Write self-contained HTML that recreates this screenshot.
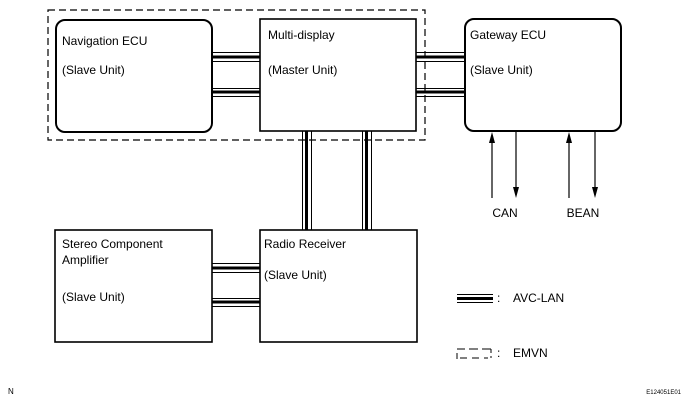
<!DOCTYPE html>
<html><head><style>
html,body{margin:0;padding:0;background:#fff;}
svg{display:block;}
text{font-family:"Liberation Sans",Arial,sans-serif;font-size:12px;fill:#000;}
</style></head><body>
<svg width="687" height="405" viewBox="0 0 687 405" xmlns="http://www.w3.org/2000/svg">
<!-- EMVN dashed box -->
<rect x="48" y="10" width="377" height="130" fill="none" stroke="#000" stroke-width="1.2" stroke-dasharray="7,4"/>
<g stroke="#000">
<line x1="212" y1="52.5" x2="260" y2="52.5" stroke-width="1"/>
<line x1="212" y1="57" x2="260" y2="57" stroke-width="3"/>
<line x1="212" y1="61.5" x2="260" y2="61.5" stroke-width="1"/>
<line x1="212" y1="88.5" x2="260" y2="88.5" stroke-width="1"/>
<line x1="212" y1="92" x2="260" y2="92" stroke-width="3"/>
<line x1="212" y1="96.5" x2="260" y2="96.5" stroke-width="1"/>
<line x1="416" y1="52.5" x2="465" y2="52.5" stroke-width="1"/>
<line x1="416" y1="57" x2="465" y2="57" stroke-width="3"/>
<line x1="416" y1="61.5" x2="465" y2="61.5" stroke-width="1"/>
<line x1="416" y1="88.5" x2="465" y2="88.5" stroke-width="1"/>
<line x1="416" y1="92" x2="465" y2="92" stroke-width="3"/>
<line x1="416" y1="96.5" x2="465" y2="96.5" stroke-width="1"/>
<line x1="212" y1="263.5" x2="260" y2="263.5" stroke-width="1"/>
<line x1="212" y1="268" x2="260" y2="268" stroke-width="3"/>
<line x1="212" y1="272.5" x2="260" y2="272.5" stroke-width="1"/>
<line x1="212" y1="298.5" x2="260" y2="298.5" stroke-width="1"/>
<line x1="212" y1="302" x2="260" y2="302" stroke-width="3"/>
<line x1="212" y1="306.5" x2="260" y2="306.5" stroke-width="1"/>
<line x1="302.5" y1="131" x2="302.5" y2="230" stroke-width="1"/>
<line x1="306.5" y1="131" x2="306.5" y2="230" stroke-width="3"/>
<line x1="311.5" y1="131" x2="311.5" y2="230" stroke-width="1"/>
<line x1="362.5" y1="131" x2="362.5" y2="230" stroke-width="1"/>
<line x1="366.5" y1="131" x2="366.5" y2="230" stroke-width="3"/>
<line x1="371.5" y1="131" x2="371.5" y2="230" stroke-width="1"/>
<line x1="457" y1="294.5" x2="493" y2="294.5" stroke-width="1"/>
<line x1="457" y1="298.5" x2="493" y2="298.5" stroke-width="3"/>
<line x1="457" y1="302.5" x2="493" y2="302.5" stroke-width="1"/>
</g>
<rect x="56" y="20" width="156" height="112" rx="9" fill="#fff" stroke="#000" stroke-width="2"/>
<rect x="260" y="19" width="156" height="112" fill="#fff" stroke="#000" stroke-width="1.6"/>
<rect x="465" y="19" width="156" height="112" rx="9" fill="#fff" stroke="#000" stroke-width="2"/>
<rect x="55" y="230" width="157" height="112" fill="#fff" stroke="#000" stroke-width="1.6"/>
<rect x="260" y="230" width="157" height="112" fill="#fff" stroke="#000" stroke-width="1.6"/>
<!-- arrows -->
<g stroke="#000" stroke-width="1.2">
<line x1="492" y1="198" x2="492" y2="140"/>
<line x1="516" y1="132" x2="516" y2="190"/>
<line x1="569" y1="198" x2="569" y2="140"/>
<line x1="595" y1="132" x2="595" y2="190"/>
</g>
<g fill="#000">
<polygon points="489,143 495,143 492,132"/>
<polygon points="513,187 519,187 516,198"/>
<polygon points="566,143 572,143 569,132"/>
<polygon points="592,187 598,187 595,198"/>
</g>
<!-- legend EMVN -->
<g stroke="#000" stroke-width="1" fill="none">
<line x1="457" y1="349" x2="465" y2="349"/>
<line x1="469" y1="349" x2="478" y2="349"/>
<line x1="482" y1="349" x2="491" y2="349"/>
<line x1="460" y1="358" x2="467" y2="358"/>
<line x1="472" y1="358" x2="479" y2="358"/>
<line x1="484" y1="358" x2="488" y2="358"/>
<line x1="457" y1="353" x2="457" y2="359"/>
<line x1="491" y1="349" x2="491" y2="353"/>
<line x1="491" y1="356" x2="491" y2="358"/>
</g>
<text x="62" y="45">Navigation ECU</text>
<text x="62" y="74">(Slave Unit)</text>
<text x="268" y="39">Multi-display</text>
<text x="268" y="74">(Master Unit)</text>
<text x="470" y="39">Gateway ECU</text>
<text x="470" y="74">(Slave Unit)</text>
<text x="62" y="248">Stereo Component</text>
<text x="62" y="264">Amplifier</text>
<text x="62" y="301">(Slave Unit)</text>
<text x="264" y="248">Radio Receiver</text>
<text x="264" y="279">(Slave Unit)</text>
<text x="505" y="217" text-anchor="middle">CAN</text>
<text x="583" y="217" text-anchor="middle">BEAN</text>
<text x="497" y="302">:</text>
<text x="513" y="302">AVC-LAN</text>
<text x="497" y="357">:</text>
<text x="513" y="357">EMVN</text>
<text x="8" y="394" style="font-size:8px">N</text>
<text x="681" y="394" text-anchor="end" style="font-size:6px">E124051E01</text>
</svg>
</body></html>
